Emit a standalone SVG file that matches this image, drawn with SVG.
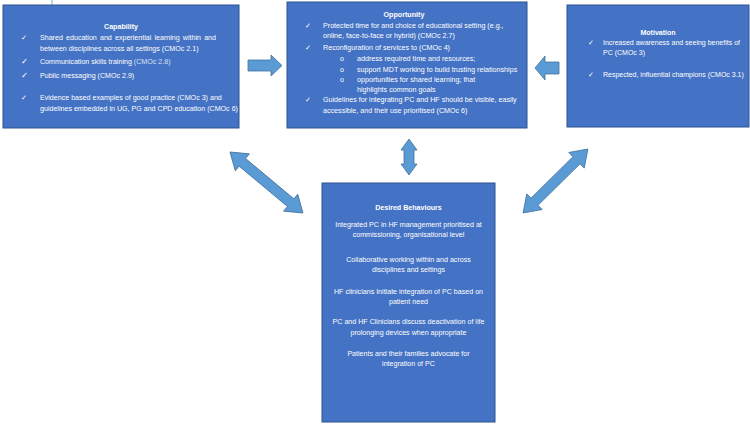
<svg xmlns="http://www.w3.org/2000/svg" width="750" height="425" viewBox="0 0 750 425">
<style>
.box{fill:#4472C4;stroke:#2F528F;stroke-width:1}
.arr{fill:#5B9BD5;stroke:#41719C;stroke-width:0.8}
text{font-family:"Liberation Sans",Arial,sans-serif;font-size:7.1px;fill:#FFFFFF}
#opportunity text{font-size:7.15px}
#motivation text{font-size:7.0px}
#desired-behaviours text{font-size:7.1px}
.t{font-weight:bold;text-anchor:middle}
.c{text-anchor:middle}
.ck{font-family:"DejaVu Sans",sans-serif}
</style>
<rect width="750" height="425" fill="#FFFFFF"/>
<line x1="52" y1="0" x2="52" y2="7" stroke="#3FA9B5" stroke-width="0.8"/>
<g id="capability">
<rect class="box" x="3" y="5" width="236" height="123"/>
<text class="t" x="121" y="29">Capability</text>
<text class="ck" x="21" y="40">✓</text>
<text x="40" y="40" word-spacing="1.2">Shared education and experiential learning within and</text>
<text x="40" y="51">between disciplines across all settings (CMOc 2.1)</text>
<text class="ck" x="21" y="64" style="font-size:8.5px">✓</text>
<text x="40" y="64">Communication skills training <tspan fill="#D9E2F3">(CMOc 2.8)</tspan></text>
<text class="ck" x="21" y="78" style="font-size:8.5px">✓</text>
<text x="40" y="78">Public messaging (CMOc 2.9)</text>
<text class="ck" x="21" y="100">✓</text>
<text x="40" y="100">Evidence based examples of good practice  (CMOc 3) and</text>
<text x="40" y="111">guidelines embedded in UG, PG and CPD education (CMOc 6)</text>
</g>
<g id="opportunity">
<rect class="box" x="287" y="2" width="240" height="126"/>
<text class="t" x="404" y="17">Opportunity</text>
<text class="ck" x="305" y="28">✓</text>
<text x="323" y="28">Protected time for and choice of educational setting (e.g.,</text>
<text x="323" y="38">online, face-to-face or hybrid) (CMOc 2.7)</text>
<text class="ck" x="305" y="50">✓</text>
<text x="323" y="50">Reconfiguration of services to (CMOc 4)</text>
<text x="340" y="61">o</text>
<text x="357" y="61">address required time and resources;</text>
<text x="340" y="72">o</text>
<text x="357" y="72">support MDT working to build trusting relationships</text>
<text x="340" y="82">o</text>
<text x="357" y="82">opportunities for shared learning; that</text>
<text x="357" y="92">highlights common goals</text>
<text class="ck" x="305" y="102">✓</text>
<text x="323" y="102">Guidelines for integrating PC and HF should be visible, easily</text>
<text x="323" y="113">accessible, and their use prioritised (CMOc 6)</text>
</g>
<g id="motivation">
<rect class="box" x="567" y="5" width="182" height="122"/>
<text class="t" x="658" y="35">Motivation</text>
<text class="ck" x="588" y="45">✓</text>
<text x="603" y="45">Increased awareness and seeing benefits of</text>
<text x="603" y="55">PC (CMOc 3)</text>
<text class="ck" x="588" y="77">✓</text>
<text x="603" y="77">Respected, influential champions (CMOc 3.1)</text>
</g>
<g id="desired-behaviours">
<rect class="box" x="322" y="183" width="173" height="239"/>
<text class="t" x="408.5" y="210">Desired Behaviours</text>
<text class="c" x="408.5" y="227">Integrated PC in HF management prioritised at</text>
<text class="c" x="408.5" y="237">commissioning, organisational level</text>
<text class="c" x="408.5" y="262">Collaborative working within and across</text>
<text class="c" x="408.5" y="272">disciplines and settings</text>
<text class="c" x="408.5" y="294">HF clinicians Initiate integration of PC based on</text>
<text class="c" x="408.5" y="304">patient need</text>
<text class="c" x="408.5" y="324">PC and HF Clinicians discuss deactivation of life</text>
<text class="c" x="408.5" y="335">prolonging devices when appropriate</text>
<text class="c" x="408.5" y="356">Patients and their families advocate for</text>
<text class="c" x="408.5" y="366">integration of PC</text>
</g>
<g id="connectors">
<polygon class="arr" points="248,60 271,60 271,55 282,65.5 271,76 271,71 248,71"/>
<polygon class="arr" points="559,62 545,62 545,56 535,68 545,80 545,74 559,74"/>
<polygon class="arr" transform="translate(409,157)" points="0,-18 8,-7 5,-7 5,7 8,7 0,18 -8,7 -5,7 -5,-7 -8,-7"/>
<polygon class="arr" transform="translate(266.5,182.5) rotate(39.9)" points="-47.5,0 -31.5,-11 -31.5,-5 31.5,-5 31.5,-11 47.5,0 31.5,11 31.5,5 -31.5,5 -31.5,11"/>
<polygon class="arr" transform="translate(555.5,181) rotate(-44.6)" points="-45.5,0 -29.5,-11 -29.5,-5 29.5,-5 29.5,-11 45.5,0 29.5,11 29.5,5 -29.5,5 -29.5,11"/>
</g>
</svg>
